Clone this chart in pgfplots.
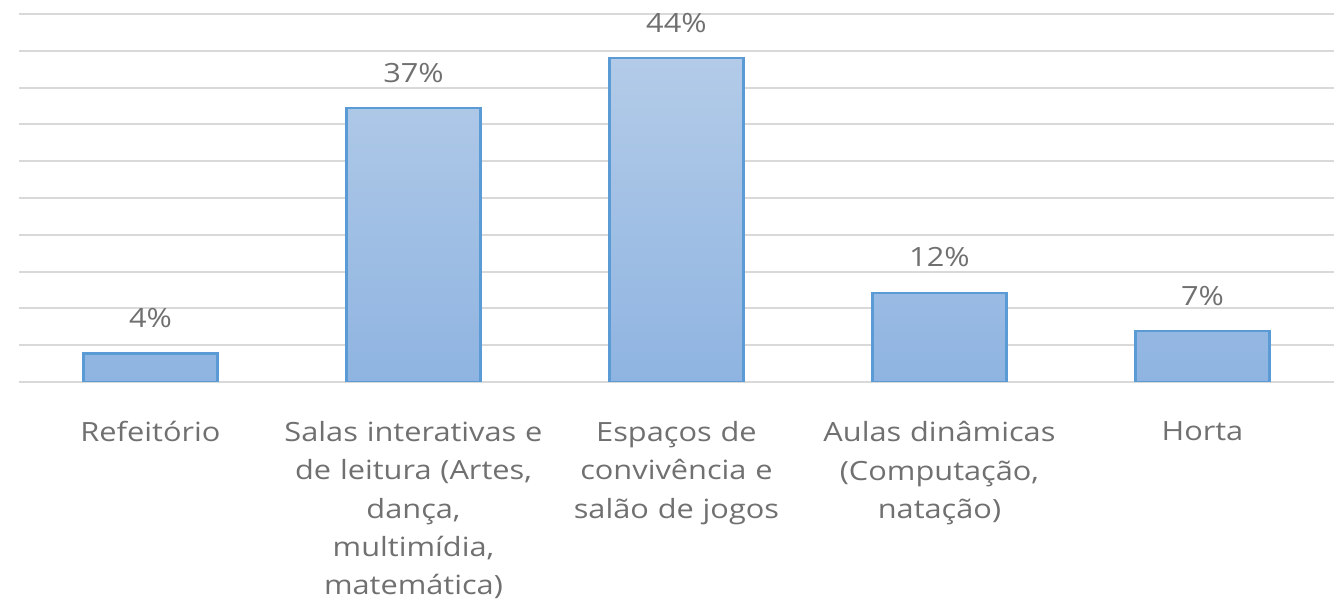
\documentclass[border=0pt]{standalone}
\usepackage{pgfplots}
\pgfplotsset{compat=1.18}
\usepackage{fontspec}
\setmainfont{Open Sans}[FakeStretch=1.16]
\definecolor{gridgray}{HTML}{D9D9D9}
\definecolor{txtgray}{HTML}{707070}
\definecolor{barTop}{HTML}{B3CBE8}
\definecolor{barBot}{HTML}{8FB4E1}
\definecolor{barEdge}{HTML}{5B9BD5}
\begin{document}
\begin{tikzpicture}
\begin{axis}[
  scale only axis,
  width=1315pt, height=368pt,
  xmin=-0.5, xmax=4.5,
  ymin=0, ymax=50,
  ytick={0,5,...,50},
  yticklabels={},
  ymajorgrids,
  major grid style={gridgray, line width=2pt},
  axis line style={draw=none},
  tick style={draw=none},
  xtick={0,1,2,3,4},
  xticklabels={
    {Refeitório},
    {Salas interativas e\\de leitura (Artes,\\dança,\\multimídia,\\matemática)},
    {Espaços de\\convivência e\\salão de jogos},
    {Aulas dinâmicas\\(Computação,\\natação)},
    {Horta}},
  xticklabel style={text width=280pt, align=center, anchor=north, inner sep=0pt,
    yshift=-35pt, font=\fontsize{26.5}{38.3}\selectfont, text=txtgray},
  ybar, bar width=134pt,
  nodes near coords,
  point meta=explicit symbolic,
  nodes near coords style={anchor=base, yshift=26pt, inner sep=0pt,
    font=\fontsize{26.5}{35}\selectfont, text=txtgray},
]
\addplot[draw=barEdge, line width=2.5pt, top color=barTop, bottom color=barBot]
  coordinates {(0,3.9) [4\%] (1,37.2) [37\%] (2,44) [44\%] (3,12.1) [12\%] (4,6.9) [7\%]};
\end{axis}
\path[use as bounding box] (-19pt,-230pt) rectangle (1324pt,382pt);
\end{tikzpicture}
\end{document}
